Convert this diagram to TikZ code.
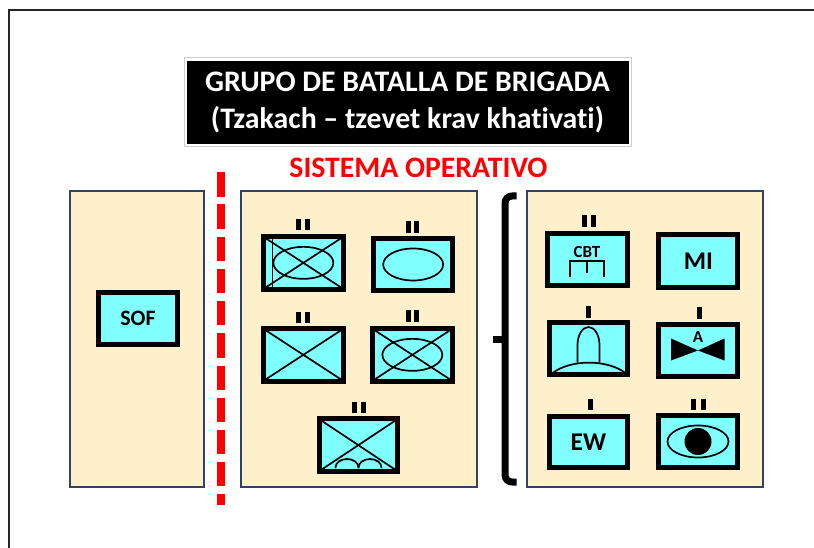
\documentclass[tikz,border=0pt]{standalone}
\usepackage{fontspec}
\setmainfont[Ligatures=NoCommon]{Carlito}
\definecolor{panelc}{HTML}{FFF0CC}
\definecolor{cyanc}{HTML}{80FFFF}
\definecolor{edgec}{HTML}{2F4464}
\definecolor{redc}{HTML}{FF0000}
\tikzset{
 panel/.style={draw=edgec,fill=panelc,line width=2pt,inner sep=0pt},
 unit/.style={draw=black,fill=cyanc,line width=5pt,inner sep=0pt,font=\bfseries},
 sym/.style={draw=black,line width=1.7pt,line cap=round},
 tick/.style={fill=black,draw=none},
}
\newcommand{\unitbox}[5]{% name,x0,y0,x1,y1 (outer)
 \path[unit] (#2+2.5,#3+2.5) rectangle (#4-2.5,#5-2.5);
 \coordinate (#1) at ({(#2+#4)/2},{(#3+#5)/2});
 \coordinate (#1nw) at (#2+3.5,#3+3.5);
 \coordinate (#1ne) at (#4-3.5,#3+3.5);
 \coordinate (#1sw) at (#2+3.5,#5-3.5);
 \coordinate (#1se) at (#4-3.5,#5-3.5);
}
\newcommand{\crossin}[1]{\draw[sym,line cap=butt] (#1nw)--(#1se) (#1ne)--(#1sw);}
\newcommand{\tickat}[3]{\fill[tick] (#1-0.5,#2) rectangle (#1+4.5,#3);}
\begin{document}
\begin{tikzpicture}[x=1pt,y=-1pt]
\useasboundingbox (0,0) rectangle (814,548);
\fill[white] (0,0) rectangle (814,548);
\draw[line width=2pt,black!85] (9,548)--(9,10.5)--(814,10.5);
% title
\node[draw=black!20,line width=1pt,fill=white,minimum width=447pt,minimum height=89pt,inner sep=0pt] (titleframe) at (407.5,102) {};
\node[fill=black,minimum width=442pt,minimum height=83pt,inner sep=0pt,text=white,font=\bfseries\fontsize{29.8}{37}\selectfont,align=center] (title) at (407.5,102.5) {GRUPO DE BATALLA DE BRIGADA\\(Tzakach – tzevet krav khativati)};
\node[text=redc,font=\bfseries\fontsize{29.7}{32}\selectfont,inner sep=0pt] (sistema) at (418.5,168) {SISTEMA OPERATIVO};
% panels
\path[panel] (69.5,191.5) rectangle (203.5,487);
\path[panel] (241,191.5) rectangle (476.5,486.5);
\path[panel] (527,191.5) rectangle (762.5,486.5);
% red dashed
\draw[redc,line width=8pt,dash pattern=on 24.3pt off 7.9pt] (221.3,172.3)--(221.3,505);
% brace
\draw[black,line width=7pt,line join=round] (516.5,196)--(512,196) to[out=180,in=90] (505,203)--(505,475) to[out=-90,in=180] (512,482)--(516.5,482);
\draw[black,line width=7.6pt] (493.3,339.5)--(505,339.5);
% SOF
\node[unit,minimum width=79pt,minimum height=52pt,font=\bfseries\fontsize{22}{24}\selectfont] (sof) at (138,318.5) {SOF};
% middle
\unitbox{a}{261}{234}{345.7}{291.7}
\draw[sym,line cap=butt] (ane)--(asw) (anw)--(ase);
\draw[sym,line cap=butt] (272.5,236)--(272.5,290);
\draw[sym] (a) ellipse (30pt and 16pt);
\tickat{296}{219.5}{230.5}\tickat{305}{219.5}{230.5}
\unitbox{b}{371}{235.7}{455.3}{293.3}
\draw[sym] (b) ellipse (30pt and 16pt);
\tickat{406}{221}{233}\tickat{414.5}{221}{233}
\unitbox{c}{261}{326}{345.7}{383.7}
\crossin{c}
\tickat{296}{311.5}{322.5}\tickat{305}{311.5}{322.5}
\unitbox{d}{370}{326}{454.7}{383.7}
\crossin{d}
\draw[sym] (d) ellipse (30pt and 16pt);
\tickat{406}{309.5}{321.5}\tickat{414.5}{309.5}{321.5}
\unitbox{e}{316.7}{416.3}{400}{474}
\crossin{e}
\draw[sym] (335.5,467.5) arc[start angle=180,end angle=0,x radius=11.5pt,y radius=8.5pt];
\draw[sym] (358.5,467.5) arc[start angle=180,end angle=0,x radius=11.5pt,y radius=8.5pt];
\tickat{352.3}{401.5}{412.7}\tickat{361.7}{401.5}{412.7}
% right
\unitbox{f}{545.3}{230.7}{629.7}{288}
\node[font=\bfseries\fontsize{17}{19}\selectfont,inner sep=0pt] (cbt) at (587,251.5) {CBT};
\draw[sym,line cap=butt] (570,276.7)--(570,260.7)--(604.3,260.7)--(604.3,276.7) (586.7,260.7)--(586.7,273.3);
\tickat{582}{214.7}{226.7}\tickat{591}{214.7}{226.7}
\unitbox{g}{656.3}{232.3}{740.3}{289.7}
\node[font=\bfseries\fontsize{25.5}{28}\selectfont,inner sep=0pt] (mi) at (698.3,261) {MI};
\unitbox{h}{547.3}{320}{630.3}{377.3}
\draw[sym] (577.5,362)--(577.5,345) arc[start angle=180,end angle=0,x radius=11pt,y radius=18pt]--(599.5,362);
\draw[sym] (552,373.5) .. controls (570,359) and (608,359) .. (626,373.5);
\tickat{586.3}{306}{318.3}
\unitbox{i}{656.3}{321.7}{740.3}{379.3}
\fill[black] (671,338.5)--(698,350.5)--(724.5,338.5)--(724.5,360.5)--(698,350.5)--(671,360.5)--cycle;
\node[font=\bfseries\fontsize{17}{19}\selectfont,inner sep=0pt] (aa) at (698,336.5) {A};
\tickat{697}{306.7}{319}
\unitbox{j}{547.3}{414}{630.3}{470.3}
\node[font=\bfseries\fontsize{25.5}{28}\selectfont,inner sep=0pt] (ew) at (588.5,442) {EW};
\tickat{588}{399}{410.3}
\unitbox{k}{656.3}{413}{740.3}{470.3}
\draw[sym] (698,441.5) ellipse (30.5pt and 16pt);
\fill[black] (698,441.5) circle (13.5pt);
\tickat{691.7}{399}{410.3}\tickat{701}{399}{410.3}
\end{tikzpicture}
\end{document}
